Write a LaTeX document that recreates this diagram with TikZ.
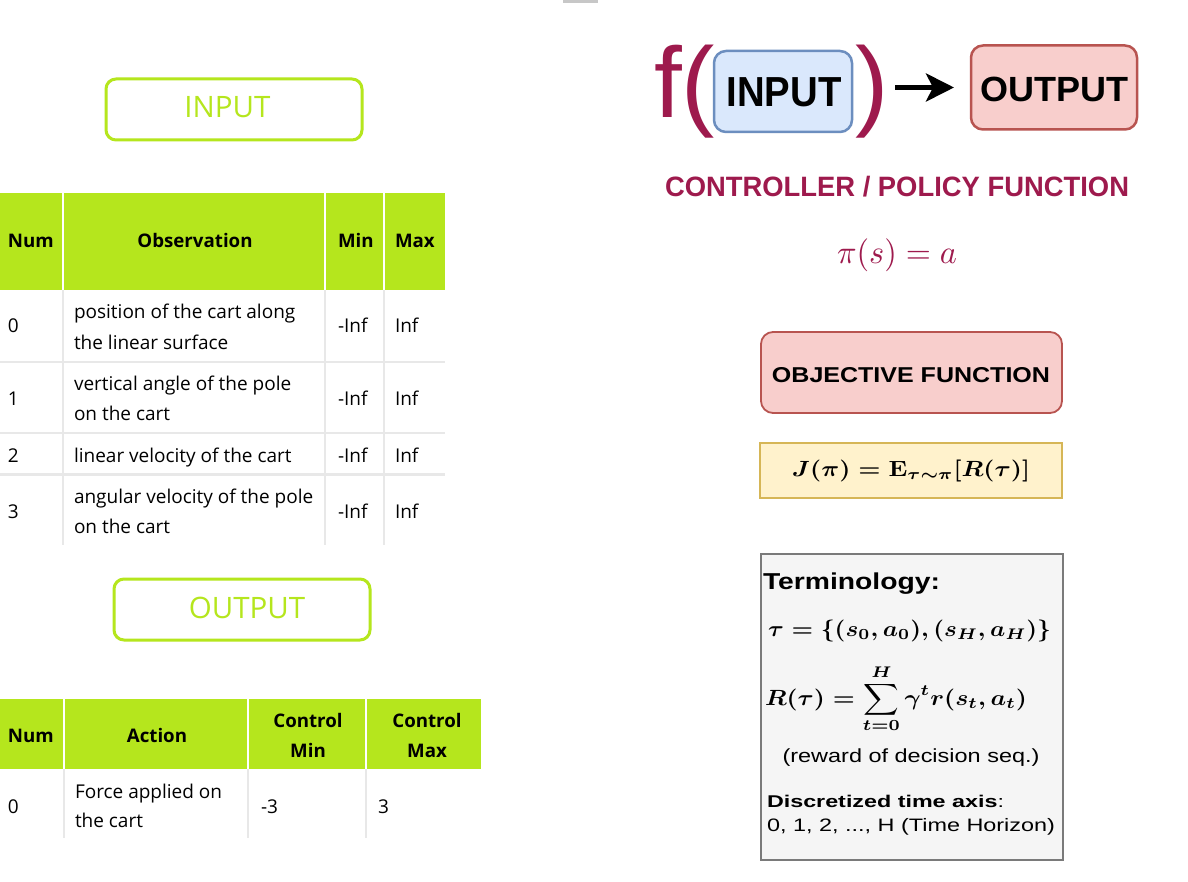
\documentclass[tikz,border=0pt]{standalone}
\usepackage[no-math]{fontspec}
\usepackage{amsmath}
\usetikzlibrary{arrows.meta}
\newfontfamily\os{Open Sans}
\newfontfamily\ar{Liberation Sans}
\definecolor{grn}{HTML}{B5E61D}
\definecolor{crim}{HTML}{9E1A4D}
\definecolor{bfill}{HTML}{DAE8FC}
\definecolor{bdraw}{HTML}{6C8EBF}
\definecolor{rfill}{HTML}{F8CECC}
\definecolor{rdraw}{HTML}{B85450}
\definecolor{yfill}{HTML}{FFF2CC}
\definecolor{ydraw}{HTML}{D6B656}
\definecolor{gline}{HTML}{E8E8E8}
\definecolor{tfill}{HTML}{F5F5F5}
\definecolor{tdraw}{HTML}{7A7A7A}
\newcommand{\fs}[1]{\fontsize{#1}{#1}\selectfont}
\newcommand{\wbox}[2]{\resizebox{#1pt}{\height}{#2}}
% math at 10pt, scaled: width, height factor
\newcommand{\mathsc}[3]{\resizebox{#1pt}{#2\height}{\fs{10}#3}}
\tikzset{
  every node/.style={inner sep=0pt,outer sep=0pt},
  td/.style={anchor=base west,font=\os\fs{19}},
  thl/.style={anchor=base west,font=\os\bfseries\fs{18.7}},
  thc/.style={anchor=base,font=\os\bfseries\fs{18.7}},
  gbox/.style={draw=grn,line width=3pt,rounded corners=10pt,minimum width=256pt,minimum height=61pt},
  glabel/.style={anchor=base,font=\os\fs{29.5},text=grn},
  sep/.style={draw=gline,line width=2pt},
  hsep/.style={draw=white,line width=2pt},
  rbox/.style={draw=rdraw,fill=rfill,line width=1.8pt,rounded corners=12pt},
  arr/.style={line width=5pt,-{Stealth[length=28pt,width=28pt,inset=7pt]}},
}
\begin{document}
\begin{tikzpicture}[x=1pt,y=-1pt]
\fill[white] (0,0) rectangle (1188,882);
\useasboundingbox (0,0) rectangle (1188,882);
\draw[line width=3pt,color=black!22] (563,2) -- (598,2);

% ---------- INPUT label
\node[gbox] (inbox) at (234,109.5) {};
\node[glabel] (inlbl) at (227.5,118) {INPUT};

% ---------- Table 1
\fill[grn] (0,193) rectangle (445,290);
\foreach \x in {63,325,384} {\draw[hsep] (\x,193) -- (\x,290); \draw[sep] (\x,290) -- (\x,545);}
\foreach \y in {362,433} {\draw[sep] (0,\y) -- (445,\y);}
\draw[sep,line width=3pt] (0,474) -- (445,474);
\node[thl] (h1) at (8,248) {Num};
\node[thc] (h2) at (195,248) {Observation};
\node[thl] (h3) at (338,248) {Min};
\node[thl] (h4) at (395,248) {Max};
\node[td] (r0a) at (8,333) {0};
\node[td] (r0b) at (74,319) {position of the cart along};
\node[td] (r0c) at (74,349) {the linear surface};
\node[td] (r0d) at (338,333) {-Inf};
\node[td] (r0e) at (395,333) {Inf};
\node[td] (r1a) at (8,405) {1};
\node[td] (r1b) at (74,390) {vertical angle of the pole};
\node[td] (r1c) at (74,420) {on the cart};
\node[td] (r1d) at (338,405) {-Inf};
\node[td] (r1e) at (395,405) {Inf};
\node[td] (r2a) at (8,462) {2};
\node[td] (r2b) at (74,462) {linear velocity of the cart};
\node[td] (r2d) at (338,462) {-Inf};
\node[td] (r2e) at (395,462) {Inf};
\node[td] (r3a) at (8,518) {3};
\node[td] (r3b) at (74,503) {angular velocity of the pole};
\node[td] (r3c) at (74,533) {on the cart};
\node[td] (r3d) at (338,518) {-Inf};
\node[td] (r3e) at (395,518) {Inf};

% ---------- OUTPUT label
\node[gbox] (outbox) at (242,609.5) {};
\node[glabel] (outlbl) at (247,618) {OUTPUT};

% ---------- Table 2
\fill[grn] (0,699) rectangle (481,769);
\foreach \x in {64,248,366} {\draw[hsep] (\x,699) -- (\x,769); \draw[sep] (\x,769) -- (\x,838);}
\node[thl] (k1) at (8,742) {Num};
\node[thc] (k2) at (157,742) {Action};
\node[thc] (k3a) at (308,727) {Control};
\node[thc] (k3b) at (308,757) {Min};
\node[thc] (k4a) at (427,727) {Control};
\node[thc] (k4b) at (427,757) {Max};
\node[td] (s0a) at (8,813) {0};
\node[td] (s0b) at (75,798) {Force applied on};
\node[td] (s0c) at (75,827) {the cart};
\node[td] (s0d) at (261,813) {-3};
\node[td] (s0e) at (378,813) {3};

% ---------- f(INPUT) -> OUTPUT
\node[anchor=base west,font=\ar\fs{100},text=crim] (fch) at (654,118) {f};
\node[anchor=base west,font=\ar\fs{100},text=crim] (lpar) at (681,118) {(};
\node[draw=bdraw,fill=bfill,line width=2.5pt,rounded corners=12pt,minimum width=138pt,minimum height=81pt] (rin) at (783,91.5) {};
\node[anchor=base,font=\ar\bfseries\fs{42}] (rinlbl) at (784,107) {\wbox{115}{INPUT}};
\node[anchor=base west,font=\ar\fs{100},text=crim] (rpar) at (855,118) {)};
\node[rbox,line width=2.5pt,minimum width=166pt,minimum height=84pt] (rout) at (1054,87.5) {};
\node[anchor=base,font=\ar\bfseries\fs{35}] (routlbl) at (1054,102) {\wbox{148}{OUTPUT}};
\draw[arr,shorten <=7pt,shorten >=17pt] (rpar.east |- rout.west) -- (rout.west);

\node[anchor=base,font=\ar\bfseries\fs{28},text=crim] (ctrl) at (897,197) {\wbox{464}{CONTROLLER / POLICY FUNCTION}};
\node[anchor=base,text=crim] (pol) at (897,264) {\mathsc{120}{3.3}{$\pi(s)=a$}};

% ---------- objective
\node[rbox,minimum width=301pt,minimum height=81pt] (obj) at (911.5,372.5) {};
\node[anchor=base,font=\ar\bfseries\fs{21.5}] (objlbl) at (911,382) {\wbox{278}{OBJECTIVE FUNCTION}};
\node[draw=ydraw,fill=yfill,line width=2pt,minimum width=302pt,minimum height=55pt] (jbox) at (911,470.5) {};
\node[anchor=base] (jeq) at (911,476) {\mathsc{238}{2.2}{\boldmath$J(\pi)=\mathbf{E}_{\tau\sim\pi}[R(\tau)]$}};

% ---------- terminology
\node[draw=tdraw,fill=tfill,line width=2pt,minimum width=302pt,minimum height=306pt] (term) at (911.5,706.5) {};
\node[anchor=base west,font=\ar\bfseries\fs{23}] (tt) at (763,589) {\wbox{177}{Terminology:}};
\node[anchor=base west] (tau) at (768,636) {\mathsc{283}{2.2}{\boldmath$\tau=\{(s_0,a_0),(s_H,a_H)\}$}};
\node[anchor=base west] (req) at (765,705) {\mathsc{262}{2.2}{\boldmath$\displaystyle R(\tau)=\sum_{t=0}^{H}\gamma^t r(s_t,a_t)$}};
\node[anchor=base,font=\ar\fs{19}] (rew) at (911,762) {\wbox{257}{(reward of decision seq.)}};
\node[anchor=base west,font=\ar\fs{17}] (disc) at (767,807) {\wbox{237}{\bfseries Discretized time axis\mdseries:}};
\node[anchor=base west,font=\ar\fs{18}] (axis) at (767,831) {\wbox{288}{0, 1, 2, ..., H (Time Horizon)}};
\end{tikzpicture}
\end{document}
